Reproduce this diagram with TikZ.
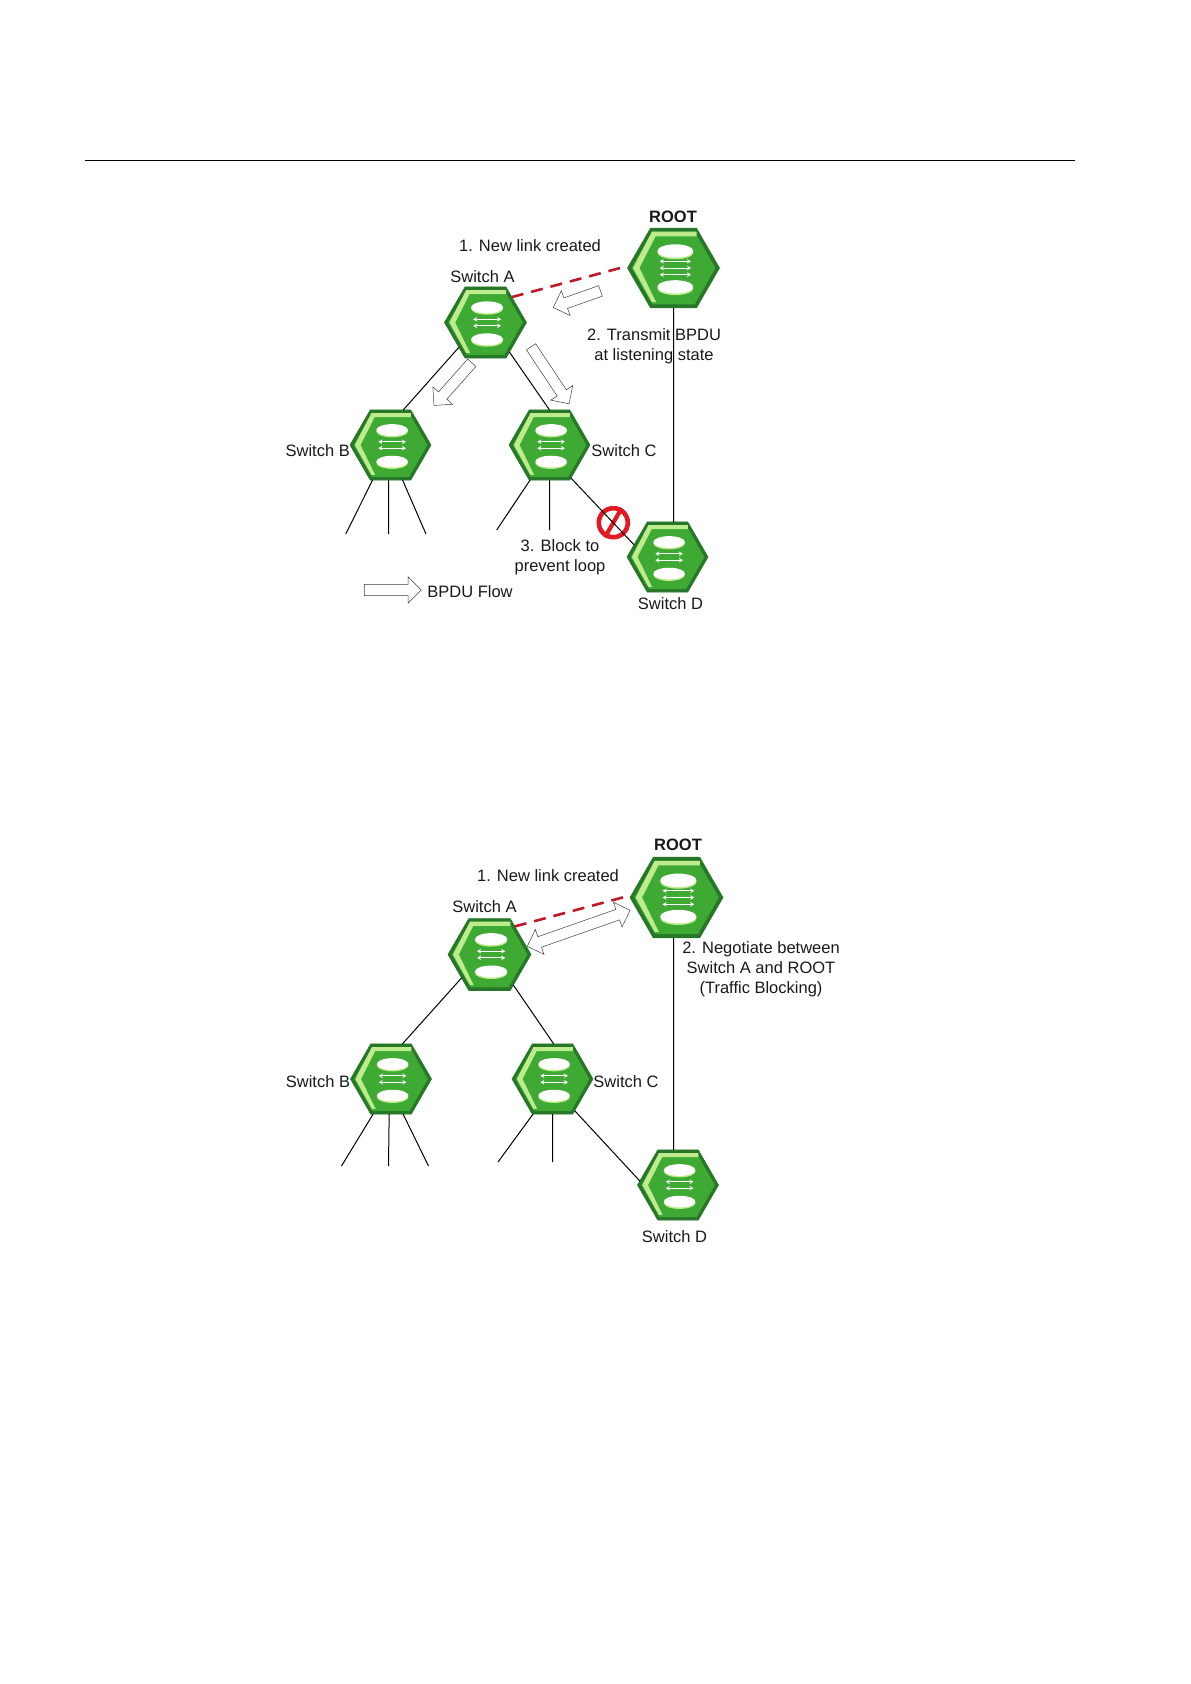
\documentclass[tikz,border=0pt]{standalone}
\usepackage{fontspec}
\setmainfont{Liberation Sans}
\usetikzlibrary{shapes.geometric,shapes.arrows,arrows.meta}

\definecolor{switchgreen}{RGB}{62,170,52}
\definecolor{switchdark}{RGB}{38,120,40}
\definecolor{switchlight}{RGB}{190,235,140}
\definecolor{linkred}{RGB}{190,25,40}
\definecolor{blockred}{RGB}{225,25,35}

\tikzset{
	label/.style={font=\fontsize{16.5}{20}\selectfont, align=center, inner sep=0pt, text=black!90},
	switchhex/.style={regular polygon, regular polygon sides=6, draw=switchdark, fill=switchdark, line width=.6pt, inner sep=0pt, outer sep=0pt},
	flow/.style={single arrow, draw=black!75, fill=white, line width=.5pt, minimum width=26pt, single arrow head extend=7.6pt, inner xsep=0pt, inner ysep=5.3pt},
	newlink/.style={draw=linkred, line width=2.6pt, dash pattern=on 12pt off 8pt},
	pics/switchicon/.style={code={
		\fill[switchgreen] (-.91,0) -- (-.46,-.79) -- (.46,-.79) -- (.91,0) -- (.46,.79) -- (-.46,.79) -- cycle;
		\fill[switchlight] (.5,-.79) -- (-.47,-.79) -- (-.88,0) -- (-.47,.74) -- (-.38,.74) -- (-.74,0) -- (-.39,-.69) -- (.5,-.69) -- cycle;
		\fill[switchlight] (.04,-.335) ellipse (.39 and .145);
		\fill[white] (.04,-.37) ellipse (.39 and .145);
		\fill[switchlight] (.04,.445) ellipse (.39 and .145);
		\fill[white] (.04,.41) ellipse (.39 and .145);
		\foreach \ypos in #1
			\draw[white, line width=1pt, {Stealth[length=4pt,width=4.5pt]}-{Stealth[length=4pt,width=4.5pt]}] (-.3,\ypos) -- (.38,\ypos);
	}}
}

\begin{document}
\begin{tikzpicture}[x=1pt, y=-1pt]
	\useasboundingbox (0,0) rectangle (1191,1684);

	% Page rule
	\coordinate (RuleL) at (85,160.5);
	\coordinate (RuleR) at (1075,160.5);
	\draw[line width=.8pt] (RuleL) -- (RuleR);

	% Switches of both panels
	\foreach \name/\pos/\rad/\marks in {
		Root1/{673.5,268}/46/{-.145,0,.145},
		SwA1/{485.5,322.5}/41/{-.08,.08},
		SwB1/{390.5,445}/40.5/{-.08,.08},
		SwC1/{549.5,445}/40.5/{-.08,.08},
		SwD1/{667.5,557}/40.5/{-.08,.08},
		Root2/{676.5,897.5}/46.5/{-.145,0,.145},
		SwA2/{489.5,954.5}/41.5/{-.08,.08},
		SwB2/{391,1079}/40.5/{-.08,.08},
		SwC2/{552.5,1079}/40.5/{-.08,.08},
		SwD2/{678,1185}/40.5/{-.08,.08}}
	{
		\node[switchhex, minimum size=2*\rad pt] (\name) at (\pos) {};
		\pic[scale=\rad] at (\name) {switchicon={\marks}};
	}

	% Free ends of the access links
	\coordinate (LeafB1a) at (345.7,534);
	\coordinate (LeafB1b) at (388.5,534);
	\coordinate (LeafB1c) at (426,534);
	\coordinate (LeafC1a) at (496.7,530);
	\coordinate (LeafC1b) at (549.5,530);
	\coordinate (LeafB2a) at (341.5,1166);
	\coordinate (LeafB2b) at (388.5,1166);
	\coordinate (LeafB2c) at (428.5,1166);
	\coordinate (LeafC2a) at (498,1162);
	\coordinate (LeafC2b) at (552.5,1162);

	% Blocked port
	\node[circle, draw=blockred, line width=4.6pt, minimum size=29pt, inner sep=0pt] (Block) at (613.3,522.7) {};
	\draw[blockred, line width=4.2pt] (Block.60) -- (Block.240);

	\draw[line width=1pt]
		% Upper panel
		(SwA1.223) -- (SwB1.70)
		(SwA1.309) -- (SwC1.90)
		(SwC1.303) -- (SwD1.160)
		(Root1.south) -- (SwD1.north -| Root1.south)
		(SwB1.243) -- (LeafB1a)
		(SwB1.267) -- (LeafB1b)
		(SwB1.289) -- (LeafB1c)
		(SwC1.241) -- (LeafC1a)
		(SwC1.270) -- (LeafC1b)

		% Lower panel
		(SwA2.220) -- (SwB2.72)
		(SwA2.308) -- (SwC2.88)
		(SwC2.305) -- (SwD2.174)
		(Root2.266) -- (SwD2.north -| Root2.266)
		(SwB2.243) -- (LeafB2a)
		(SwB2.267) -- (LeafB2b)
		(SwB2.289) -- (LeafB2c)
		(SwC2.241) -- (LeafC2a)
		(SwC2.270) -- (LeafC2b);

	% New links
	\draw[newlink, shorten >=5pt] (SwA1.44) -- (Root1.177);
	\draw[newlink, shorten >=5pt] (SwA2.48) -- (Root2.177);

	% BPDU arrows
	\node[flow, minimum height=50pt, rotate=199.4] (FlowRoot) at (579.5,298.3) {};
	\node[flow, minimum height=57pt, rotate=228.5] (FlowB) at (454.7,382) {};
	\node[flow, minimum height=68.5pt, rotate=-56.3] (FlowC) at (548.5,373) {};
	\node[flow, minimum height=57pt] (FlowKey) at (390,590) {};
	\node[double arrow, draw=black!75, fill=white, line width=.5pt, minimum width=26pt, double arrow head extend=7.6pt, inner xsep=0pt, inner ysep=5.3pt, minimum height=109pt, rotate=19.3] (FlowBoth) at (578.7,928.3) {};

	% Upper panel texts
	\node[label, font=\fontsize{16.5}{20}\selectfont\bfseries] (RootText1) at (673,216.7) {ROOT};
	\node[label] (NewText1) at (530,245.7) {1. New link created};
	\node[label] (ATextOne) at (482.5,276.5) {Switch A};
	\node[label] (TransmitText) at (654,346) {2. Transmit BPDU\\at listening state};
	\node[label] (BTextOne) at (317.7,450.7) {Switch B};
	\node[label] (CTextOne) at (624,450.7) {Switch C};
	\node[label] (BlockText) at (560,557.2) {3. Block to\\prevent loop};
	\node[label] (KeyText) at (470,591.5) {BPDU Flow};
	\node[label] (DTextOne) at (670.5,603.2) {Switch D};

	% Lower panel texts
	\node[label, font=\fontsize{16.5}{20}\selectfont\bfseries] (RootText2) at (678,844.5) {ROOT};
	\node[label] (NewText2) at (548,875.8) {1. New link created};
	\node[label] (ATextTwo) at (484.5,906.7) {Switch A};
	\node[label] (NegotiateText) at (761,969.5) {2. Negotiate between\\Switch A and ROOT\\(Traffic Blocking)};
	\node[label] (BTextTwo) at (318,1081.7) {Switch B};
	\node[label] (CTextTwo) at (626,1081.7) {Switch C};
	\node[label] (DTextTwo) at (674.5,1236.7) {Switch D};
\end{tikzpicture}
\end{document}
